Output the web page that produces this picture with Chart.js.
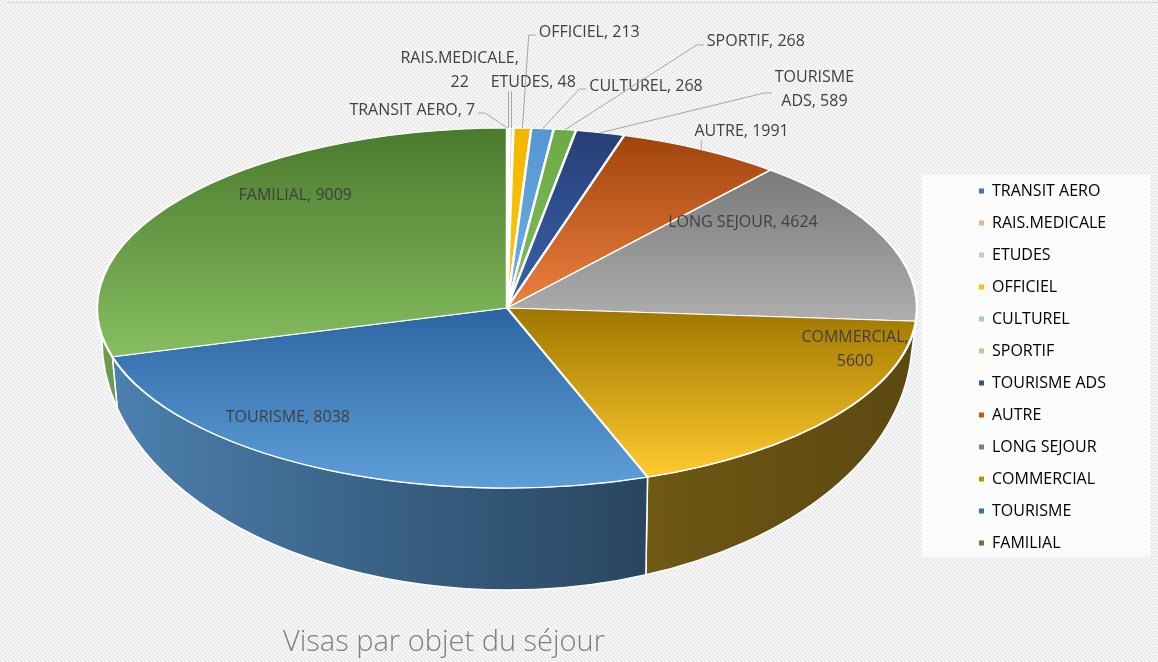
<!DOCTYPE html>
<html>
<head>
<meta charset="utf-8">
<script src="https://cdn.jsdelivr.net/npm/chart.js@4.4.1/dist/chart.umd.min.js"></script>
<style>
  html, body { margin: 0; padding: 0; background: #f4f4f4; }
  #wrap { position: relative; width: 1158px; height: 662px; }
</style>
</head>
<body>
<div id="wrap"><canvas id="pieChart" width="1158" height="662"></canvas></div>
<script>
// données
const categories = ['TRANSIT AERO', 'RAIS.MEDICALE', 'ETUDES', 'OFFICIEL', 'CULTUREL', 'SPORTIF',
                    'TOURISME ADS', 'AUTRE', 'LONG SEJOUR', 'COMMERCIAL', 'TOURISME', 'FAMILIAL'];
const visas = [7, 22, 48, 213, 268, 268, 589, 1991, 4624, 5600, 8038, 9009];
const chartTitle = 'Visas par objet du séjour';

// couleurs (haut sombre -> bas clair)
const sliceShades = [
    ['#4A7FC0', '#5B9BD5'], ['#D86A20', '#ED7D31'], ['#D9D9D9', '#EDEDED'], ['#F2B600', '#FFC50A'],
    ['#5597D3', '#70ADE3'], ['#6BAA45', '#82BE5C'], ['#263F75', '#3A62AE'], ['#A0440C', '#EE8040'],
    ['#7A7A7A', '#AEAEAE'], ['#9E7600', '#FFCB2E'], ['#2C66A2', '#5E9ED8'], ['#4A7A2D', '#86BE60']
];
const legendColors = ['#4472C4', '#F4B183', '#C9C9C9', '#FFC000', '#9DC3E6', '#A9D18E',
                      '#2F5597', '#C55A11', '#7F7F7F', '#BF9000', '#2E75B6', '#548235'];

// géométrie du camembert 3D (ellipse du dessus, ellipse du dessous)
const pie = { cx: 507, cy: 308, rx: 410, ry: 180, bx: 507, by: 340, brx: 405, bry: 250 };
const sideShade = [[0, 0.82], [0.37, 0.6], [0.72, 0.42], [1, 0.36]];
const legendBox = { left: 963, top: 167, panel: [922, 175, 228, 382] };
// placement des étiquettes : [rayon relatif, décalage d'angle en degrés]
const labelPlace = [[1.124, -11.9], [1.327, -5.2], [1.257, 2.3], [1.546, 5.3], [1.279, 10.4], [1.598, 14.2],
                    [1.425, 18.6], [1.138, 1.9], [0.748, -16.8], [0.880, -21.8], [0.808, 14.3], [0.809, 13.2]];
const labelMaxWidth = [0, 125, 0, 0, 0, 0, 95, 0, 0, 120, 0, 0];
const BORDER = 2;

function shade(hex, f) {
    const n = parseInt(hex.slice(1), 16);
    const r = Math.round(((n >> 16) & 255) * f), g = Math.round(((n >> 8) & 255) * f), b = Math.round((n & 255) * f);
    return `rgb(${r},${g},${b})`;
}

// dégradé vertical propre à chaque part
function sliceFill(context) {
    const i = context.dataIndex;
    const area = context.chart.chartArea;
    if (!area || i === undefined) return sliceShades[i || 0][1];
    const cy0 = (area.top + area.bottom) / 2;
    const r0 = (Math.min(area.width, area.height) - BORDER) / 2;
    const total = visas.reduce((a, b) => a + b, 0);
    let cum = 0;
    for (let j = 0; j < i; j++) cum += visas[j];
    const a0 = -Math.PI / 2 + 2 * Math.PI * cum / total;
    const a1 = a0 + 2 * Math.PI * visas[i] / total;
    let lo = Math.min(0, Math.sin(a0), Math.sin(a1));
    let hi = Math.max(0, Math.sin(a0), Math.sin(a1));
    if (a0 <= Math.PI / 2 && a1 >= Math.PI / 2) hi = 1;
    if (a0 <= -Math.PI / 2 || a1 >= 3 * Math.PI / 2) lo = -1;
    const g = context.chart.ctx.createLinearGradient(0, cy0 + lo * r0, 0, cy0 + hi * r0);
    g.addColorStop(0, sliceShades[i][0]);
    g.addColorStop(1, sliceShades[i][1]);
    return g;
}

function wrapText(ctx, text, maxWidth) {
    if (!maxWidth) return [text];
    const words = text.split(' ');
    const lines = [];
    let line = '';
    for (const w of words) {
        const test = line ? line + ' ' + w : w;
        if (line && ctx.measureText(test).width > maxWidth) {
            lines.push(line);
            line = w;
        } else {
            line = test;
        }
    }
    lines.push(line);
    return lines;
}

// flancs du camembert
function drawSides(ctx, arcs) {
    arcs.forEach((arc, i) => {
        const t0 = Math.max(arc.startAngle, 0), t1 = Math.min(arc.endAngle, Math.PI);
        if (t1 <= t0) return;
        const g = ctx.createLinearGradient(pie.cx - pie.rx, 0, pie.cx + pie.rx, 0);
        sideShade.forEach(([pos, f]) => g.addColorStop(pos, shade(sliceShades[i][1], f)));
        ctx.beginPath();
        ctx.ellipse(pie.cx, pie.cy, pie.rx, pie.ry, 0, t0, t1);
        ctx.ellipse(pie.bx, pie.by, pie.brx, pie.bry, 0, t1, t0, true);
        ctx.closePath();
        ctx.fillStyle = g;
        ctx.fill();
        ctx.strokeStyle = '#ffffff';
        ctx.lineWidth = 1.5;
        ctx.stroke();
    });
}

function drawLabels(chart) {
    const ctx = chart.ctx;
    const arcs = chart.getDatasetMeta(0).data;
    ctx.save();
    ctx.font = '16px "Open Sans"';
    ctx.textAlign = 'center';
    ctx.textBaseline = 'middle';
    const lh = 24;
    arcs.forEach((arc, i) => {
        const mid = (arc.startAngle + arc.endAngle) / 2;
        const [k, shift] = labelPlace[i];
        const a = mid + shift * Math.PI / 180;
        const x = pie.cx + k * pie.rx * Math.cos(a);
        const y = pie.cy + k * pie.ry * Math.sin(a);
        const lines = wrapText(ctx, categories[i] + ', ' + visas[i], labelMaxWidth[i]);
        const w = Math.max(...lines.map(l => ctx.measureText(l).width));
        const halfH = (lines.length - 1) * lh / 2 + 9;
        if (k > 1) {
            // ligne de repère
            const ex = pie.cx + pie.rx * Math.cos(mid), ey = pie.cy + pie.ry * Math.sin(mid);
            const left = x - w / 2 - 3, right = x + w / 2 + 3;
            ctx.beginPath();
            ctx.moveTo(ex, ey);
            if (ex < left) {
                ctx.lineTo(left - 7, y + 3);
                ctx.lineTo(left, y + 3);
            } else if (ex > right) {
                ctx.lineTo(right + 7, y + 3);
                ctx.lineTo(right, y + 3);
            } else {
                ctx.lineTo(ex, y + halfH);
            }
            ctx.strokeStyle = '#A6A6A6';
            ctx.lineWidth = 1;
            ctx.stroke();
        }
        ctx.fillStyle = '#404040';
        lines.forEach((l, j) => ctx.fillText(l, x, y - (lines.length - 1) * lh / 2 + j * lh));
    });
    ctx.restore();
}

// motif hachuré du fond
function hatch() {
    const c = document.createElement('canvas');
    c.width = 4; c.height = 4;
    const p = c.getContext('2d');
    p.fillStyle = '#F8F8F8';
    p.fillRect(0, 0, 4, 4);
    for (let i = 0; i < 4; i++) {
        p.fillStyle = '#E4E4E4';
        p.fillRect(i, i, 1, 1);
        p.fillStyle = '#EDEDED';
        p.fillRect((i + 1) % 4, i, 1, 1);
    }
    return c;
}

const pie3dPlugin = {
    id: 'pie3d',
    beforeDraw(chart) {
        const ctx = chart.ctx;
        ctx.save();
        ctx.fillStyle = ctx.createPattern(hatch(), 'repeat');
        ctx.fillRect(0, 0, chart.width, chart.height);
        ctx.fillStyle = 'rgba(255,255,255,0.75)';
        ctx.fillRect(...legendBox.panel);
        ctx.strokeStyle = '#D4D4D4';
        ctx.lineWidth = 1;
        ctx.beginPath();
        ctx.moveTo(6, 2.5);
        ctx.lineTo(chart.width, 2.5);
        ctx.stroke();
        ctx.restore();
    },
    afterLayout(chart) {
        const lg = chart.legend;
        const w = lg.width;
        lg.left = legendBox.left;
        lg.right = lg.left + w;
        lg.top = legendBox.top;
        lg.bottom = chart.height;
    },
    beforeDatasetsDraw(chart) {
        const ctx = chart.ctx;
        const arcs = chart.getDatasetMeta(0).data;
        drawSides(ctx, arcs);
        const a = arcs[0];
        ctx.save();
        ctx.translate(pie.cx, pie.cy);
        ctx.scale(pie.rx / a.outerRadius, pie.ry / a.outerRadius);
        ctx.translate(-a.x, -a.y);
    },
    afterDatasetsDraw(chart) {
        chart.ctx.restore();
        drawLabels(chart);
    },
    afterDraw(chart) {
        const ctx = chart.ctx;
        ctx.save();
        ctx.font = '300 29px "Open Sans"';
        ctx.fillStyle = '#7F7F7F';
        ctx.textAlign = 'left';
        ctx.textBaseline = 'alphabetic';
        ctx.fillText(chartTitle, 283, 651);
        ctx.restore();
    }
};

const config = {
    type: 'pie',
    data: {
        labels: categories,
        datasets: [{
            data: visas,
            backgroundColor: sliceFill,
            borderColor: '#ffffff',
            borderWidth: BORDER,
            clip: false
        }]
    },
    options: {
        responsive: false,
        animation: false,
        events: [],
        devicePixelRatio: 1,
        plugins: {
            tooltip: { enabled: false },
            legend: {
                position: 'right',
                align: 'start',
                labels: {
                    boxWidth: 5,
                    boxHeight: 5,
                    padding: 16,
                    color: '#595959',
                    font: { family: 'Open Sans', size: 16 },
                    generateLabels: () => categories.map((c, i) => ({
                        text: c,
                        fillStyle: legendColors[i],
                        strokeStyle: legendColors[i],
                        lineWidth: 0,
                        hidden: false,
                        index: i
                    }))
                }
            }
        }
    },
    plugins: [pie3dPlugin]
};

new Chart(document.getElementById('pieChart').getContext('2d'), config);
</script>
</body>
</html>
